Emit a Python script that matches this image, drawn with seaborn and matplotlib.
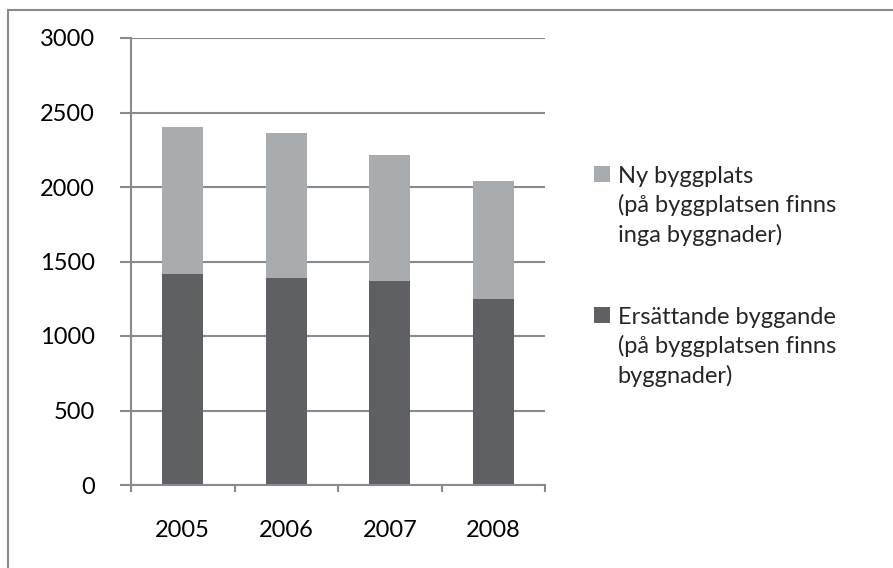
import pandas as pd
import seaborn as sns
import matplotlib.pyplot as plt
from matplotlib.patches import Rectangle, Patch
from matplotlib.legend_handler import HandlerPatch

# data
ar = ["2005", "2006", "2007", "2008"]
ersattande = [1415, 1390, 1370, 1250]
ny_byggplats = [985, 970, 845, 790]

etikett_ny = "Ny byggplats\n(på byggplatsen finns\ninga byggnader)"
etikett_ers = "Ersättande byggande\n(på byggplatsen finns\nbyggnader)"

ljus = "#a9acaf"
mork = "#5f6064"
grid = "#878a8e"

df = pd.DataFrame({"År": ar, "Ersättande": ersattande, "Ny": ny_byggplats})
df["Totalt"] = df["Ersättande"] + df["Ny"]

sns.set_style("white")
plt.rcParams["font.family"] = ["Lato", "DejaVu Sans"]

fig = plt.figure(figsize=(8.93, 5.68), dpi=100)
ax = fig.add_axes([131 / 893, 1 - 485 / 568, 414 / 893, 447 / 568])

sns.barplot(data=df, x="År", y="Totalt", color=ljus, saturation=1, width=0.4, linewidth=0, ax=ax)
sns.barplot(data=df, x="År", y="Ersättande", color=mork, saturation=1, width=0.4, linewidth=0, ax=ax)

ax.set_ylim(0, 3000)
ax.set_xlim(-0.5, 3.5)
ax.set_yticks(range(0, 3001, 500))
ax.set_xlabel("")
ax.set_ylabel("")
ax.set_axisbelow(True)
ax.yaxis.grid(True, color=grid, linewidth=1.5)
ax.xaxis.grid(False)

for s in ["top", "right"]:
    ax.spines[s].set_visible(False)
for s in ["left", "bottom"]:
    ax.spines[s].set_color(grid)
    ax.spines[s].set_linewidth(1.5)

ax.tick_params(axis="y", which="major", direction="out", length=8, width=1.5,
               color=grid, pad=18, labelsize=17, labelcolor="black", left=True)
ax.tick_params(axis="x", which="major", length=0, pad=25, labelsize=17, labelcolor="black")
ax.set_xticks([-0.5, 0.5, 1.5, 2.5, 3.5], minor=True)
ax.tick_params(axis="x", which="minor", direction="out", length=5, width=1.5,
               color=grid, bottom=True)


def fyrkant(legend, orig_handle, xdescent, ydescent, width, height, fontsize):
    # lift the square to the first text line
    return Rectangle((-xdescent, -ydescent + 23), width, height)


h_ny = Patch(facecolor=ljus, edgecolor="none")
h_ers = Patch(facecolor=mork, edgecolor="none")
leg = ax.legend([h_ny, h_ers], [etikett_ny, etikett_ers],
                handler_map={Patch: HandlerPatch(patch_func=fyrkant)},
                loc="upper left", bbox_to_anchor=(594 / 893, 1 - 166 / 568),
                bbox_transform=fig.transFigure, frameon=False, fontsize=17,
                handlelength=0.68, handleheight=0.68, handletextpad=0.33,
                borderpad=0, borderaxespad=0, labelspacing=2.6)
for t in leg.get_texts():
    t.set_linespacing(1.4)

fig.patches.append(Rectangle((8 / 893, -0.1), 1.2, 1.1 - 10 / 568,
                             transform=fig.transFigure, fill=False,
                             edgecolor=grid, linewidth=1.5))

fig.savefig("out.png", dpi=100)
